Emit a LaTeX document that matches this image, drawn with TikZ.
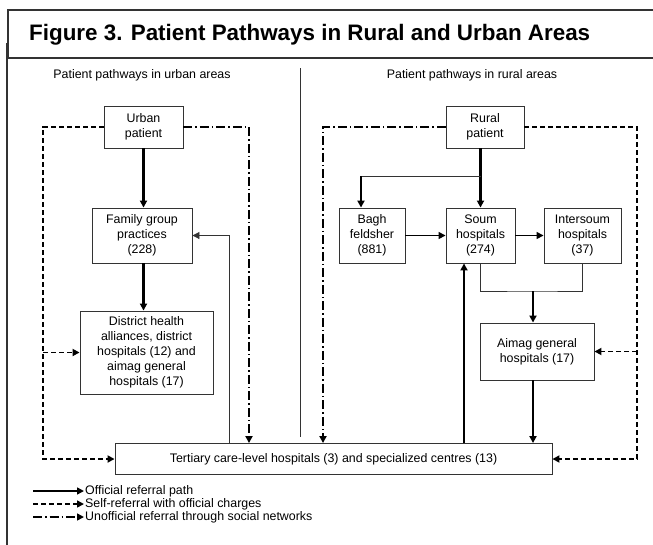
\documentclass[tikz,border=0pt]{standalone}
\usepackage{fontspec}
\setmainfont{Liberation Sans}
\usetikzlibrary{arrows.meta,positioning}
\definecolor{pathGrey}{HTML}{333333}

\begin{document}
\begin{tikzpicture}[x=1pt, y=-1pt,
    n/.style={draw=pathGrey, line width=0.9pt, fill=white, inner sep=1pt, align=center,
      font=\fontsize{12.4}{15}\selectfont},
    txt/.style={inner sep=1pt, font=\fontsize{12.4}{15}\selectfont},
    offref/.style={-{Triangle[length=7pt,width=7pt]}, line width=2.2pt},
    selfref/.style={-{Triangle[length=7pt,width=7pt]}, line width=1.7pt, dash pattern=on 5pt off 3pt},
    unofref/.style={-{Triangle[length=7pt,width=7pt]}, line width=1.9pt,
      dash pattern=on 9pt off 3pt on 1.5pt off 3pt},
    thinln/.style={line width=0.9pt, pathGrey}]
  \useasboundingbox (0,0) rectangle (653,544);
  % frame and title
  \draw[line width=1.8pt, pathGrey] (7,43) -- (7,550);
  \draw[line width=1.4pt, pathGrey, fill=white] (8,10) rectangle (660,58);
  \node[anchor=base west, inner sep=0pt, font=\fontsize{22.4}{26}\selectfont\bfseries] (title) at (29,40)
    {Figure 3. Patient Pathways in Rural and Urban Areas};
  \node[txt] (urbhead) at (142,75) {Patient pathways in urban areas};
  \node[txt] (rurhead) at (472,75) {Patient pathways in rural areas};
  \draw[thinln] (300,68) -- (300,437);

  % urban side
  \node[n, minimum width=79pt, minimum height=42pt] (urban) at (143.5,127) {Urban\\patient};
  \node[n, minimum width=100pt, minimum height=55pt] (family) at (142,235.5) {Family group\\practices\\(228)};
  \node[n, minimum width=133pt, minimum height=83pt] (district) at (146.5,352.5)
    {District health\\alliances, district\\hospitals (12) and\\aimag general\\hospitals (17)};

  % rural side
  \node[n, minimum width=78pt, minimum height=42pt] (rural) at (485,127) {Rural\\patient};
  \node[n, minimum width=66pt, minimum height=55pt] (bagh) at (372,235.5) {Bagh\\feldsher\\(881)};
  \node[n, minimum width=69pt, minimum height=55pt] (soum) at (480.5,235.5) {Soum\\hospitals\\(274)};
  \node[n, minimum width=77pt, minimum height=55pt] (inter) at (582.5,235.5) {Intersoum\\hospitals\\(37)};
  \node[n, minimum width=114pt, minimum height=57pt] (aimag) at (537,351.5) {Aimag general\\hospitals (17)};

  \node[n, minimum width=437pt, minimum height=31pt] (tertiary) at (333.5,459)
    {Tertiary care-level hospitals (3) and specialized centres (13)};

  % corners of the outer loops
  \coordinate (ulTop) at (43,127);
  \coordinate (ulBot) at (43,459);
  \coordinate (udTop) at (249,127);
  \coordinate (rdTop) at (323,127);
  \coordinate (rrTop) at (637,127);
  \coordinate (rrBot) at (637,459);
  \coordinate (split) at (480.5,176);
  \coordinate (merge) at (533,291);

  % official referral
  \draw[offref] (urban) -- (urban.south |- family.north);
  \draw[offref] (urban.south |- family.south) -- (urban.south |- district.north);
  \draw[offref] (soum.north |- rural.south) -- (soum.north);
  \draw[thinln] (split) -- ([xshift=-11pt]bagh.north |- split);
  \draw[offref] ([xshift=-11pt]bagh.north |- split) -- ([xshift=-11pt]bagh.north);
  \draw[offref, line width=1.5pt] (bagh) -- (soum);
  \draw[offref, line width=1.5pt] (soum) -- (inter);
  \draw[thinln] (soum.south) |- (merge) -| (inter.south);
  \draw[offref] (merge) -- (merge |- aimag.north);
  \draw[offref] (merge |- aimag.south) -- (merge |- tertiary.north);
  \draw[offref] (tertiary.north -| 464,0) -- (soum.south -| 464,0);
  \draw[thinln, -{Triangle[length=7pt,width=7pt]}] (tertiary.north -| 229,0) |- (family.east);

  % self-referral
  \draw[selfref] (urban.west) -- (ulTop) -- (ulBot) -- (tertiary.west);
  \draw[selfref] (ulTop |- district.west) -- (district.west);
  \draw[selfref] (rural.east) -- (rrTop) -- (rrBot) -- (tertiary.east);
  \draw[selfref] (rrTop |- aimag.east) -- (aimag.east);

  % unofficial referral
  \draw[unofref] (urban.east) -- (udTop) -- (udTop |- tertiary.north);
  \draw[unofref] (rural.west) -- (rdTop) -- (rdTop |- tertiary.north);

  % legend
  \node[txt, anchor=west] (lgOff) at (84,491) {Official referral path};
  \node[txt, anchor=west] (lgSelf) at (84,504) {Self-referral with official charges};
  \node[txt, anchor=west] (lgUnof) at (84,517) {Unofficial referral through social networks};
  \draw[offref, line width=1.5pt] (lgOff.west -| 33,0) -- (lgOff.west);
  \draw[selfref, line width=1.5pt] (lgSelf.west -| 33,0) -- (lgSelf.west);
  \draw[unofref, line width=1.5pt] (lgUnof.west -| 33,0) -- (lgUnof.west);
\end{tikzpicture}
\end{document}
